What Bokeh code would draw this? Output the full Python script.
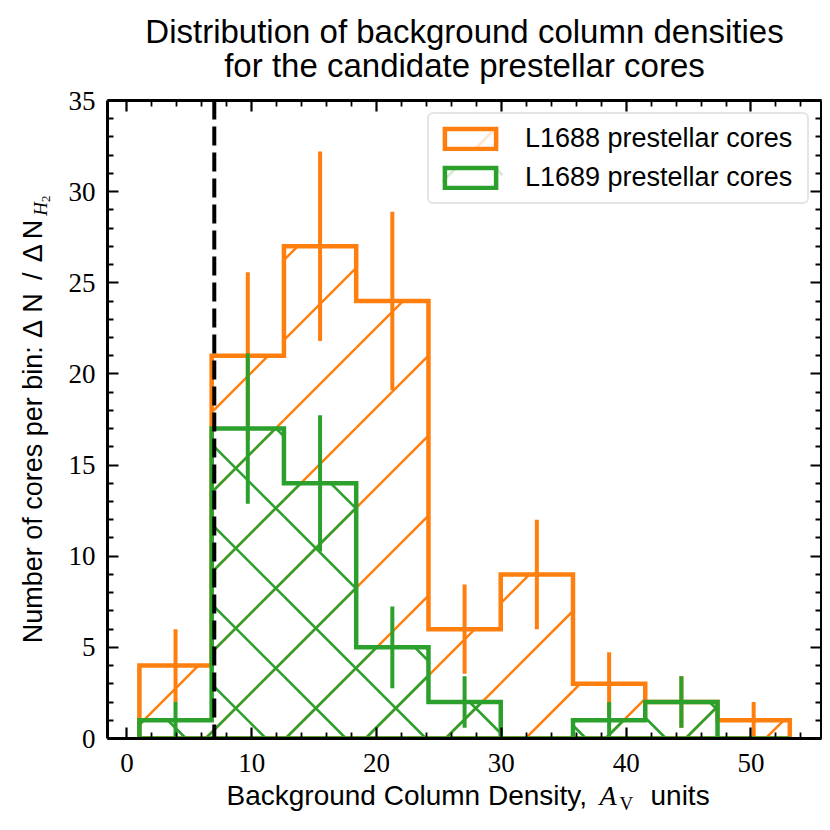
import math
from bokeh.plotting import figure
from bokeh.layouts import column, row
from bokeh.models import (Range1d, LinearAxis, FixedTicker, Span, CustomLabelingPolicy)
from bokeh.core.properties import value
from bokeh.embed import file_html
from bokeh.resources import INLINE

# ---------------- data ----------------
bin_edges = [1.0, 6.79, 12.58, 18.37, 24.16, 29.95, 35.74, 41.53, 47.32, 53.11]
l1688_counts = [4, 21, 27, 24, 6, 9, 3, 2, 1]
l1688_errors = [2.00, 4.58, 5.20, 4.90, 2.45, 3.00, 1.73, 1.41, 1.00]
l1689_counts = [1, 17, 14, 5, 2, 0, 1, 2, 0]
l1689_errors = [1.00, 4.12, 3.74, 2.24, 1.41, 0.00, 1.00, 1.41, 0.00]
threshold_av = 7.0
series_labels = ["L1688 prestellar cores", "L1689 prestellar cores"]
x_ticks = [0, 10, 20, 30, 40, 50]
x_minor = [2, 4, 6, 8, 12, 14, 16, 18, 22, 24, 26, 28, 32, 34, 36, 38, 42, 44, 46, 48, 52, 54]
y_ticks = [0, 5, 10, 15, 20, 25, 30, 35]
y_minor = [v for v in range(0, 36) if v % 5 != 0]
title_lines = ["Distribution of background column densities",
               "for the candidate prestellar cores"]
x_label_parts = ["Background Column Density,", "A", "V", "units"]
y_label_parts = ["Number of cores per bin:", "\u0394", "N", "/", "\u0394", "N", "H", "2"]

ORANGE = "#ff7f0e"
GREEN = "#2ca02c"
SANS = "Liberation Sans"
SERIF = "Liberation Serif"

# ---------------- geometry (page pixels) ----------------
TOTAL_W = 822
TITLE_H = 86
YLAB_W = 60
MAIN_H = 695
XLAB_H = 41
FX0, FX1, FY0, FY1 = 107, 821, 100, 738        # frame in page pixels
XMIN, XMAX, YMIN, YMAX = -1.556, 55.65, 0.0, 35.0
BASE_SHIFT = 0.35                              # text anchor correction (fraction of size)
HATCH_PERIOD, HATCH_FWD, HATCH_BACK = 80, 63, 7.5

# legend layout
LG_MARGIN, LG_PAD, LG_SPACING = 12, 9, 8
LG_GW, LG_GH, LG_STANDOFF, LG_LABEL_W, LG_ROW_H = 64, 25, 23, 273, 32


def to_sx(x):
    return FX0 + (x - XMIN) * (FX1 - FX0) / (XMAX - XMIN)


def to_sy(y):
    return FY1 - (y - YMIN) * (FY1 - FY0) / (YMAX - YMIN)


def from_sx(s):
    return XMIN + (s - FX0) * (XMAX - XMIN) / (FX1 - FX0)


def from_sy(s):
    return YMIN + (FY1 - s) * (YMAX - YMIN) / (FY1 - FY0)


def step_outline(edges, counts):
    xs, ys = [edges[0]], [0]
    for i, c in enumerate(counts):
        xs += [edges[i], edges[i + 1]]
        ys += [c, c]
    xs.append(edges[-1])
    ys.append(0)
    return xs, ys


def rect_hatch(rects, period, fwd_phase, back_phase=None):
    """45-degree hatch lines in page space, clipped to rectangles (L, R, T, B)."""
    x0, y0, x1, y1 = [], [], [], []
    for L, R, T, B in rects:
        k = fwd_phase + period * math.ceil((L + T - fwd_phase) / period)
        while k <= R + B:
            xa, xb = max(L, k - B), min(R, k - T)
            if xb > xa:
                x0.append(from_sx(xa)); y0.append(from_sy(k - xa))
                x1.append(from_sx(xb)); y1.append(from_sy(k - xb))
            k += period
        if back_phase is not None:
            d = back_phase + period * math.ceil((L - B - back_phase) / period)
            while d <= R - T:
                xa, xb = max(L, T + d), min(R, B + d)
                if xb > xa:
                    x0.append(from_sx(xa)); y0.append(from_sy(xa - d))
                    x1.append(from_sx(xb)); y1.append(from_sy(xb - d))
                d += period
    return x0, y0, x1, y1


def bar_rects(edges, counts):
    return [(to_sx(edges[i]), to_sx(edges[i + 1]), to_sy(c), to_sy(0))
            for i, c in enumerate(counts) if c > 0]


def legend_swatch(i, inset=2.0):
    box_right = FX1 - LG_MARGIN
    box_left = box_right - (2 * LG_PAD + LG_GW + LG_STANDOFF + LG_LABEL_W)
    top = FY0 + LG_MARGIN + LG_PAD + i * (LG_ROW_H + LG_SPACING) + (LG_ROW_H - LG_GH) / 2
    L = box_left + LG_PAD
    return (L + inset, L + LG_GW - inset, top + inset, top + LG_GH - inset)


centers = [(bin_edges[i] + bin_edges[i + 1]) / 2 for i in range(len(bin_edges) - 1)]


def blank_fig(w, h):
    f = figure(width=w, height=h, output_backend="svg", toolbar_location=None,
               x_range=Range1d(0, w), y_range=Range1d(0, h),
               x_axis_type=None, y_axis_type=None, min_border=0,
               background_fill_color="white", border_fill_color="white")
    f.outline_line_color = None
    f.xgrid.visible = False
    f.ygrid.visible = False
    return f


def htxt(f, fig_top, x, base_y, text, size, font=SANS, style="normal", align="left"):
    y = (fig_top + f.height) - (base_y - BASE_SHIFT * size)
    f.text(x=[x], y=[y], text=[text], text_font=value(font), text_font_size=value(f"{size}px"),
           text_font_style=style, text_align=align, text_baseline="alphabetic",
           text_color="black")


def vtxt(f, fig_top, base_x, center_y, text, size, font=SANS, style="normal"):
    y = (fig_top + f.height) - center_y
    f.text(x=[base_x - BASE_SHIFT * size], y=[y], text=[text], text_font=value(font),
           text_font_size=value(f"{size}px"), text_font_style=style, text_align="center",
           text_baseline="alphabetic", text_color="black", angle=math.pi / 2)


# ---------------- main plot ----------------
MAIN_W = TOTAL_W - YLAB_W
p = figure(width=MAIN_W, height=MAIN_H, output_backend="svg", toolbar_location=None,
           x_range=Range1d(XMIN, XMAX), y_range=Range1d(YMIN, YMAX),
           x_axis_type=None, y_axis_type=None,
           min_border_left=FX0 - YLAB_W, min_border_right=MAIN_W - (FX1 - YLAB_W),
           min_border_top=FY0 - TITLE_H, min_border_bottom=TITLE_H + MAIN_H - FY1,
           background_fill_color="white", border_fill_color="white")
p.xgrid.visible = False
p.ygrid.visible = False
p.outline_line_color = None

xs1, ys1 = step_outline(bin_edges, l1688_counts)
xs2, ys2 = step_outline(bin_edges, l1689_counts)

# L1688 (orange, "/" hatch)
h1 = rect_hatch(bar_rects(bin_edges, l1688_counts), HATCH_PERIOD, HATCH_FWD)
p.segment(x0=h1[0], y0=h1[1], x1=h1[2], y1=h1[3], line_color=ORANGE, line_width=2.5)
p.patch(xs1, ys1, fill_color=None, line_color=ORANGE, line_width=4.5, line_join="miter",
        legend_label=series_labels[0])
p.segment(x0=centers, y0=[c - e for c, e in zip(l1688_counts, l1688_errors)],
          x1=centers, y1=[c + e for c, e in zip(l1688_counts, l1688_errors)],
          line_color=ORANGE, line_width=4, line_cap="butt")

# L1689 (green, "x" hatch)
h2 = rect_hatch(bar_rects(bin_edges, l1689_counts), HATCH_PERIOD, HATCH_FWD, HATCH_BACK)
p.segment(x0=h2[0], y0=h2[1], x1=h2[2], y1=h2[3], line_color=GREEN, line_width=2.6)
p.patch(xs2, ys2, fill_color=None, line_color=GREEN, line_width=4.5, line_join="miter",
        legend_label=series_labels[1])
p.segment(x0=centers, y0=[c - e for c, e in zip(l1689_counts, l1689_errors)],
          x1=centers, y1=[c + e for c, e in zip(l1689_counts, l1689_errors)],
          line_color=GREEN, line_width=4, line_cap="butt")

p.add_layout(Span(location=threshold_av, dimension="height", line_color="black",
                  line_width=4, line_dash="19 7"))

no_labels = CustomLabelingPolicy(code="return indices.constructor.all_unset(indices.size)")


def make_axis(ticks, minor, show_labels, standoff):
    ax = LinearAxis(ticker=FixedTicker(ticks=ticks, minor_ticks=minor))
    ax.axis_line_width = 3
    ax.axis_line_color = "black"
    ax.major_tick_in = 11
    ax.major_tick_out = 0
    ax.minor_tick_in = 6
    ax.minor_tick_out = 0
    ax.major_tick_line_width = 2.2
    ax.minor_tick_line_width = 1.8
    ax.major_tick_line_color = "black"
    ax.minor_tick_line_color = "black"
    if show_labels:
        ax.major_label_text_font = SERIF
        ax.major_label_text_font_size = "27px"
        ax.major_label_text_color = "black"
        ax.major_label_standoff = standoff
    else:
        ax.major_label_text_font_size = "0px"
        ax.major_label_standoff = 0
        ax.major_label_policy = no_labels
    return ax


p.add_layout(make_axis(x_ticks, x_minor, True, 15), "below")
p.add_layout(make_axis(y_ticks, y_minor, True, 12), "left")
p.add_layout(make_axis(x_ticks, x_minor, False, 0), "above")
p.add_layout(make_axis(y_ticks, y_minor, False, 0), "right")

lg = p.legend[0]
lg.location = "top_right"
lg.margin = LG_MARGIN
lg.padding = LG_PAD
lg.spacing = LG_SPACING
lg.glyph_width = LG_GW
lg.glyph_height = LG_GH
lg.label_standoff = LG_STANDOFF
lg.label_width = LG_LABEL_W
lg.label_text_font = SANS
lg.label_text_font_size = "27px"
lg.label_text_color = "black"
lg.border_line_color = "#cccccc"
lg.border_line_width = 2
lg.background_fill_color = "white"
lg.background_fill_alpha = 0.8
try:
    lg.border_radius = 6
except Exception:
    pass

# hatch inside the legend swatches (same page-anchored pattern as the bars)
lh1 = rect_hatch([legend_swatch(0)], HATCH_PERIOD, HATCH_FWD)
p.segment(x0=lh1[0], y0=lh1[1], x1=lh1[2], y1=lh1[3], line_color=ORANGE, line_width=2.5,
          level="overlay")
lh2 = rect_hatch([legend_swatch(1)], HATCH_PERIOD, HATCH_FWD, HATCH_BACK)
p.segment(x0=lh2[0], y0=lh2[1], x1=lh2[2], y1=lh2[3], line_color=GREEN, line_width=2.6,
          level="overlay")

# ---------------- title ----------------
tf = blank_fig(TOTAL_W, TITLE_H)
cx = (FX0 + FX1) / 2
htxt(tf, 0, cx, 42.7, title_lines[0], 33, align="center")
htxt(tf, 0, cx, 76.7, title_lines[1], 33, align="center")

# ---------------- y label (rotated) ----------------
yf = blank_fig(YLAB_W, MAIN_H)
ybase = 41.7
vtxt(yf, TITLE_H, ybase, 515.5, y_label_parts[0], 27)
for part, cy in zip(y_label_parts[1:6], [335, 306.5, 277.5, 252.5, 226.5]):
    vtxt(yf, TITLE_H, ybase, cy, part, 27)
vtxt(yf, TITLE_H, ybase + 5, 204, y_label_parts[6], 19, font=SERIF, style="italic")
vtxt(yf, TITLE_H, ybase + 8, 193, y_label_parts[7], 13, font=SERIF)

# ---------------- x label ----------------
xf = blank_fig(TOTAL_W, XLAB_H)
xtop = TITLE_H + MAIN_H
htxt(xf, xtop, 226, 805, x_label_parts[0], 28)
htxt(xf, xtop, 599, 805, x_label_parts[1], 28, font=SERIF, style="italic")
htxt(xf, xtop, 619, 810, x_label_parts[2], 19, font=SERIF)
htxt(xf, xtop, 650, 805, x_label_parts[3], 28)

layout = column(tf, row(yf, p), xf)
open("out.html", "w").write(file_html(layout, INLINE))
